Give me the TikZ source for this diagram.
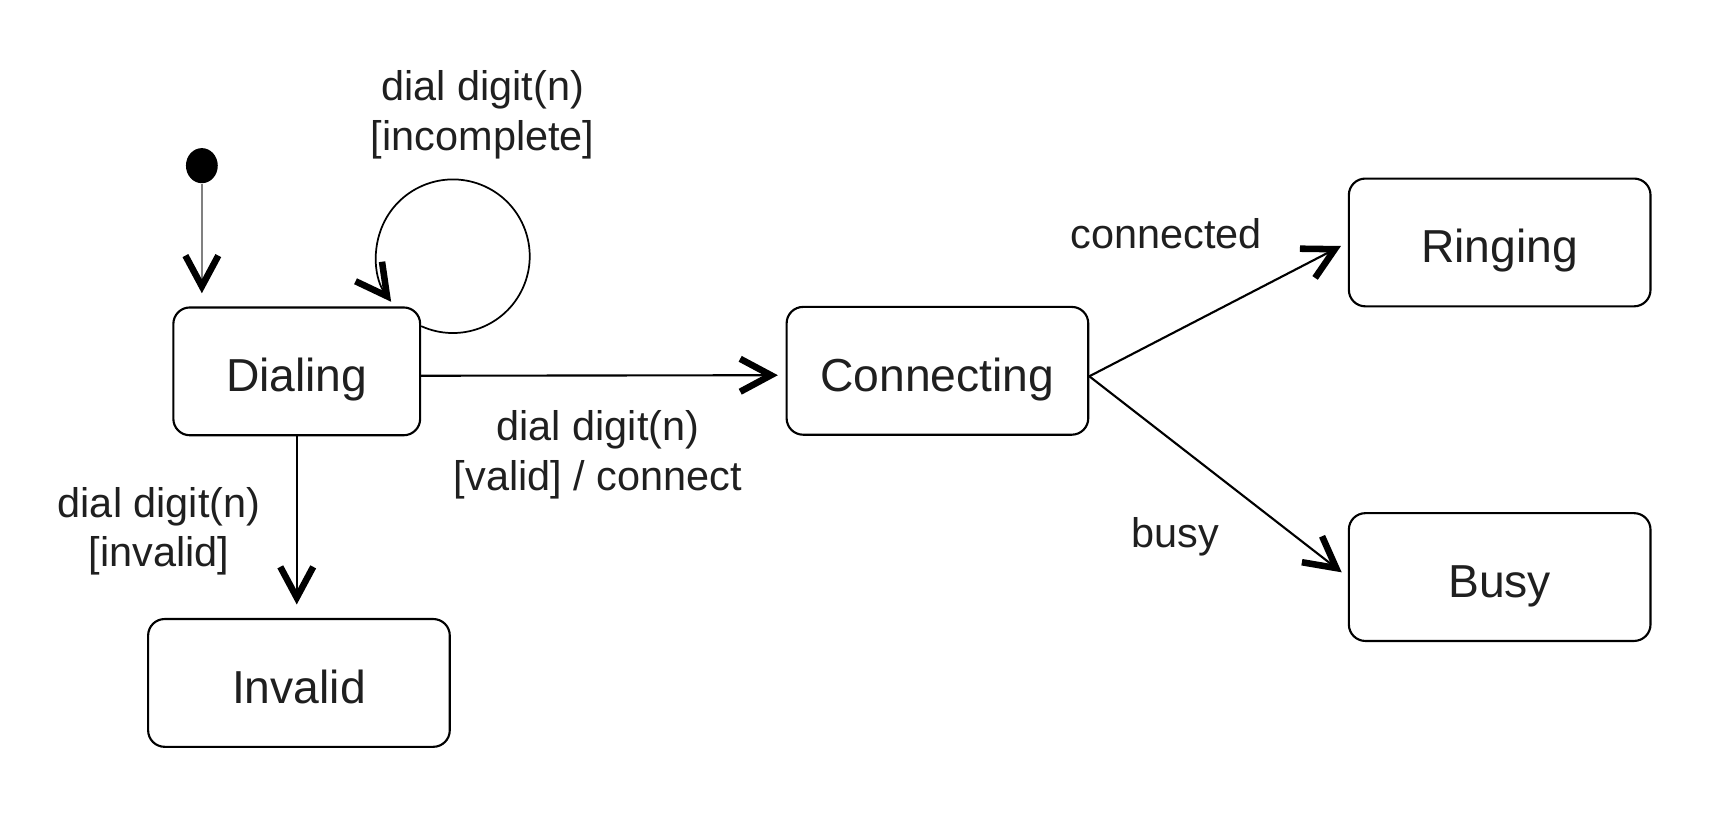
\documentclass[tikz,border=0pt]{standalone}
\usepackage{fontspec}
\setmainfont{Liberation Sans}
\usetikzlibrary{arrows.meta,calc,shapes.geometric}
\begin{document}
\begin{tikzpicture}[x=0.02cm,y=0.02cm,
  state/.style={draw, line width=1.1pt, rounded corners=0.3cm, minimum height=2.33cm, inner sep=0pt,
    text height=21pt, text depth=0pt,
    font=\fontsize{24}{28}\selectfont, text=black!88},
  lbl/.style={font=\fontsize{21.5}{25.6}\selectfont, align=center, text=black!88, inner sep=0pt},
  tip/.tip={Straight Barb[length=0.56cm,width=0.6cm,line width=3.4pt]},
  tr/.style={line width=1.1pt, -tip}]
\useasboundingbox (0,0) rectangle (1566,-744);
% states
\node[state, minimum width=4.5cm] (dial) at (270.5,-338.5) {Dialing};
\node[state, minimum width=5.5cm] (inv) at (272.5,-622.5) {Invalid};
\node[state, minimum width=5.5cm] (conn) at (854.5,-338) {Connecting};
\node[state, minimum width=5.5cm] (ring) at (1367,-221) {Ringing};
\node[state, minimum width=5.5cm] (busy) at (1367,-526) {Busy};
% initial
\node[ellipse, fill=black, inner sep=0pt, minimum width=0.58cm, minimum height=0.64cm] (init) at (184,-151) {};
% transitions
\draw[line width=1.3pt, color=black!50, -{tip[black]}] (init) -- ($(init |- dial.north)+(0,12)$);
\draw[tr, line width=0.9pt] ($(dial.north east)+(0,-18)$) arc[start angle=-114.4, end angle=216.4, radius=70];
\draw[tr, shorten >=4] ($(dial.east)+(0,-4)$) -- ($(conn.west)+(0,-4)$);
\draw[tr, shorten >=7] (dial.south) -- (dial.south |- inv.north);
\draw[tr, shorten >=4] ($(conn.east)+(0,-5)$) -- (ring.west);
\draw[tr, shorten >=4] ($(conn.east)+(0,-5)$) -- (busy.west);
% labels
\node[lbl] (l1) at (440,-104.5) {dial digit(n)\\{}[incomplete]};
\node[lbl] (l2) at (545,-414.5) {dial digit(n)\\{}[valid] / connect};
\node[lbl] (l3) at (145,-484) {dial digit(n)\\{}[invalid]};
\node[lbl] (l4) at (1063,-213) {connected};
\node[lbl] (l5) at (1071,-489) {busy};
\end{tikzpicture}
\end{document}
